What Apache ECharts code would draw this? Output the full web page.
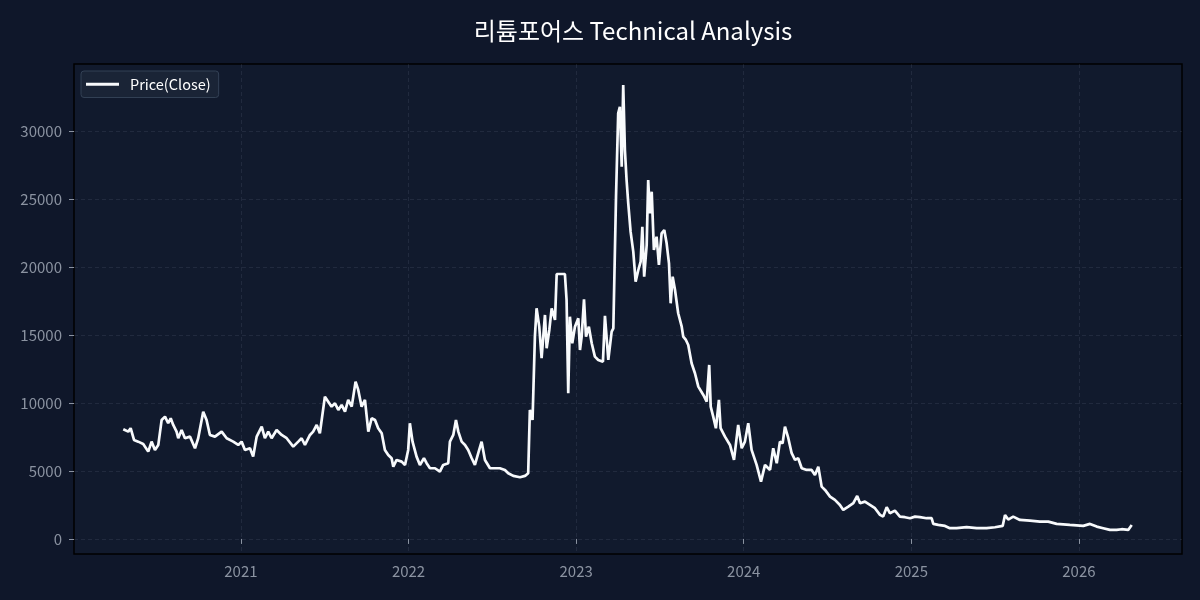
<!DOCTYPE html>
<html>
<head>
<meta charset="UTF-8">
<title>리튬포어스 Technical Analysis</title>
<script src="https://cdn.jsdelivr.net/npm/echarts@6/dist/echarts.min.js"></script>
<style>
  html, body { margin: 0; padding: 0; background: #0f172a; }
  #main { width: 1200px; height: 600px; }
</style>
</head>
<body>
<div id="main"></div>
<script>
// x position as decimal year
var yearPos = [
  2020.298, 2020.328, 2020.342, 2020.362, 2020.387, 2020.417, 2020.447, 2020.467, 2020.487, 2020.507,
  2020.527, 2020.547, 2020.566, 2020.581, 2020.596, 2020.616, 2020.626, 2020.646, 2020.666, 2020.696,
  2020.726, 2020.745, 2020.775, 2020.795, 2020.815, 2020.845, 2020.885, 2020.915, 2020.954, 2020.984,
  2021.004, 2021.024, 2021.054, 2021.073, 2021.094, 2021.124, 2021.143, 2021.163, 2021.183, 2021.213,
  2021.243, 2021.273, 2021.312, 2021.342, 2021.362, 2021.382, 2021.412, 2021.431, 2021.452, 2021.471,
  2021.501, 2021.521, 2021.541, 2021.561, 2021.581, 2021.601, 2021.621, 2021.640, 2021.661, 2021.684,
  2021.700, 2021.720, 2021.740, 2021.760, 2021.780, 2021.800, 2021.819, 2021.840, 2021.859, 2021.879,
  2021.899, 2021.909, 2021.929, 2021.959, 2021.979, 2021.998, 2022.008, 2022.024, 2022.048, 2022.068,
  2022.092, 2022.108, 2022.128, 2022.158, 2022.187, 2022.207, 2022.237, 2022.247, 2022.267, 2022.283,
  2022.297, 2022.317, 2022.337, 2022.356, 2022.377, 2022.396, 2022.416, 2022.436, 2022.456, 2022.486,
  2022.516, 2022.545, 2022.575, 2022.595, 2022.625, 2022.665, 2022.695, 2022.714, 2022.724, 2022.740,
  2022.754, 2022.764, 2022.780, 2022.794, 2022.814, 2022.824, 2022.840, 2022.854, 2022.874, 2022.884,
  2022.933, 2022.943, 2022.953, 2022.963, 2022.977, 2022.993, 2023.013, 2023.023, 2023.033, 2023.047,
  2023.059, 2023.076, 2023.093, 2023.112, 2023.132, 2023.160, 2023.172, 2023.192, 2023.212, 2023.222,
  2023.238, 2023.251, 2023.261, 2023.272, 2023.281, 2023.291, 2023.301, 2023.311, 2023.325, 2023.341,
  2023.355, 2023.371, 2023.385, 2023.395, 2023.406, 2023.421, 2023.430, 2023.440, 2023.451, 2023.464,
  2023.480, 2023.494, 2023.510, 2023.526, 2023.540, 2023.554, 2023.564, 2023.576, 2023.590, 2023.609,
  2023.630, 2023.639, 2023.655, 2023.669, 2023.679, 2023.689, 2023.709, 2023.729, 2023.759, 2023.779,
  2023.794, 2023.803, 2023.818, 2023.834, 2023.852, 2023.862, 2023.888, 2023.918, 2023.942, 2023.967,
  2023.988, 2024.007, 2024.027, 2024.047, 2024.077, 2024.103, 2024.127, 2024.157, 2024.176, 2024.197,
  2024.216, 2024.232, 2024.246, 2024.266, 2024.286, 2024.306, 2024.325, 2024.346, 2024.376, 2024.405,
  2024.425, 2024.445, 2024.465, 2024.485, 2024.515, 2024.544, 2024.574, 2024.594, 2024.624, 2024.654,
  2024.677, 2024.694, 2024.723, 2024.753, 2024.783, 2024.813, 2024.832, 2024.853, 2024.872, 2024.902,
  2024.932, 2024.962, 2024.992, 2025.022, 2025.051, 2025.091, 2025.121, 2025.131, 2025.161, 2025.201,
  2025.230, 2025.270, 2025.330, 2025.390, 2025.449, 2025.499, 2025.545, 2025.559, 2025.578, 2025.608,
  2025.648, 2025.708, 2025.767, 2025.817, 2025.867, 2025.946, 2026.026, 2026.066, 2026.106, 2026.145,
  2026.185, 2026.225, 2026.255, 2026.294, 2026.315
];
// closing price
var closePrice = [
  8066, 7890, 8140, 7280, 7155, 6985, 6420, 7155, 6544, 6912,
  8750, 8993, 8507, 8875, 8382, 7890, 7404, 8015, 7404, 7522,
  6669, 7404, 9360, 8750, 7647, 7522, 7890, 7404, 7155, 6912,
  7155, 6544, 6669, 6052, 7522, 8258, 7404, 7890, 7404, 8015,
  7647, 7404, 6787, 7155, 7404, 6912, 7647, 7890, 8382, 7772,
  10463, 10096, 9728, 9978, 9485, 9853, 9360, 10221, 9728, 11566,
  10956, 9728, 10221, 7890, 8875, 8750, 8140, 7772, 6544, 6176,
  5934, 5316, 5809, 5684, 5441, 6544, 8507, 7155, 6052, 5441,
  5934, 5566, 5198, 5198, 4949, 5441, 5566, 7155, 7647, 8750,
  7890, 7155, 6912, 6544, 5934, 5441, 6302, 7155, 5809, 5198,
  5198, 5198, 5074, 4831, 4632, 4537, 4632, 4831, 9485, 8750,
  14875, 16963, 15610, 13287, 16471, 14022, 15368, 16963, 16103, 19485,
  19485, 17574, 10713, 16346, 14390, 15610, 16228, 13897, 14875, 17625,
  14875, 15610, 14390, 13405, 13162, 13037, 16400, 13162, 15243, 15492,
  25170, 31302, 31787, 27375, 33382, 28603, 26397, 24683, 22596, 21126,
  18919, 19779, 20390, 22963, 19287, 21618, 26397, 23949, 25537, 21250,
  22228, 20147, 22478, 22721, 21743, 20272, 17331, 19287, 18309, 16596,
  15610, 14875, 14632, 14265, 14140, 12919, 12184, 11199, 10588, 10096,
  12794, 9728, 8993, 8140, 10221, 8140, 7522, 6912, 5809, 8382,
  6669, 7155, 8507, 6544, 5441, 4213, 5441, 5074, 6669, 5566,
  7155, 7037, 8258, 7404, 6302, 5809, 5934, 5198, 5074, 5074,
  4706, 5316, 3846, 3603, 3110, 2868, 2500, 2132, 2375, 2625,
  3162, 2625, 2743, 2500, 2257, 1765, 1640, 2331, 1890, 2081,
  1640, 1596, 1522, 1640, 1596, 1522, 1522, 1103, 1029, 956,
  787, 787, 860, 787, 787, 860, 956, 1765, 1420, 1640,
  1397, 1346, 1272, 1272, 1103, 1029, 956, 1103, 904, 787,
  662, 662, 713, 662, 1029
];
var yearTicks = [2021, 2022, 2023, 2024, 2025, 2026];
var priceTicks = [0, 5000, 10000, 15000, 20000, 25000, 30000];

var seriesData = [];
for (var i = 0; i < yearPos.length; i++) {
  seriesData.push([yearPos[i], closePrice[i]]);
}

var gridColor = 'rgba(148,163,184,0.16)';
var labelColor = '#8b93a1';

var myChart = echarts.init(document.getElementById('main'));
var option = {
  backgroundColor: '#0f172a',
  animation: false,
  title: {
    text: '리튬포어스 Technical Analysis',
    left: 628,
    top: 14,
    textAlign: 'center',
    textStyle: {
      color: '#ffffff',
      fontSize: 24,
      fontWeight: 'normal',
      fontFamily: 'Noto Sans CJK KR'
    }
  },
  legend: {
    data: ['Price(Close)'],
    left: 81,
    top: 71,
    orient: 'vertical',
    padding: [6, 8, 6, 5],
    backgroundColor: '#1a2436',
    borderColor: '#334155',
    borderWidth: 1,
    borderRadius: 3,
    icon: 'rect',
    itemWidth: 33,
    itemHeight: 3,
    textStyle: {
      color: '#ffffff',
      fontSize: 14.5,
      fontFamily: 'Noto Sans CJK KR',
      padding: [0, 0, 0, 6]
    }
  },
  grid: {
    left: 74,
    right: 18,
    top: 64,
    bottom: 46,
    show: true,
    borderColor: '#000000',
    borderWidth: 1.5,
    backgroundColor: '#111a2d'
  },
  xAxis: {
    type: 'value',
    min: 2020.004,
    max: 2026.615,
    axisLine: { show: false },
    axisTick: {
      show: true,
      customValues: yearTicks,
      length: 5,
      lineStyle: { color: labelColor }
    },
    axisLabel: {
      customValues: yearTicks,
      color: labelColor,
      fontSize: 15,
      margin: 10,
      fontFamily: 'Noto Sans CJK KR',
      formatter: function (v) { return String(Math.round(v)); }
    },
    splitLine: {
      show: true,
      lineStyle: { color: gridColor, type: [4, 3], width: 0.8 }
    }
  },
  yAxis: {
    type: 'value',
    min: -1110,
    max: 34930,
    axisLine: { show: false },
    axisTick: {
      show: true,
      customValues: priceTicks,
      length: 5,
      lineStyle: { color: labelColor }
    },
    axisLabel: {
      customValues: priceTicks,
      color: labelColor,
      fontSize: 15,
      margin: 12,
      fontFamily: 'Noto Sans CJK KR',
      formatter: function (v) { return String(Math.round(v)); }
    },
    splitLine: {
      show: true,
      lineStyle: { color: gridColor, type: [4, 3], width: 0.8 }
    }
  },
  series: [{
    name: 'Price(Close)',
    type: 'line',
    data: seriesData,
    showSymbol: false,
    symbol: 'none',
    itemStyle: { color: '#f8fafc' },
    lineStyle: { color: '#f8fafc', width: 2.7 }
  }]
};
myChart.setOption(option);
</script>
</body>
</html>
